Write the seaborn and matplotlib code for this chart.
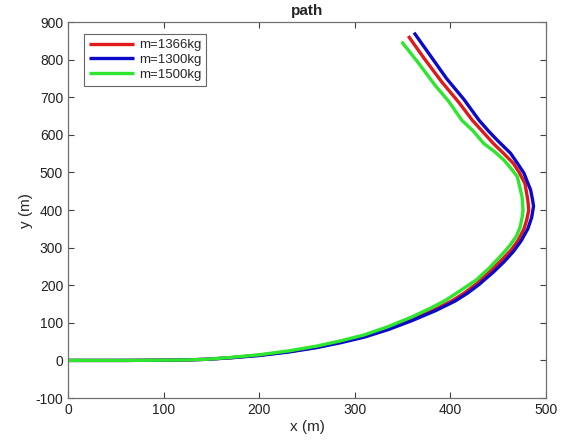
import pandas as pd
import matplotlib
matplotlib.use("Agg")
import matplotlib.pyplot as plt
import seaborn as sns

# Path points (x in m, y in m)
labels = ["m=1366kg", "m=1300kg", "m=1500kg"]
colors = ["#e01a1a", "#0a0ac8", "#2ee62e"]

x_1366 = [0, 60, 120, 145, 170, 200, 230, 260, 285, 310, 335, 360, 385, 402, 415,
          428, 442, 454, 464, 471, 477, 480, 482, 481, 478, 472, 466, 456, 445, 434,
          423, 409, 391, 373, 356]
y_1366 = [0, 0, 1, 3, 7, 14, 23, 35, 49, 64, 85, 110, 137, 159, 180,
          205, 238, 268, 295, 320, 350, 375, 400, 427, 471, 500, 524, 550, 577, 608,
          639, 686, 741, 802, 863]

x_1300 = [0, 60, 120, 145, 170, 200, 230, 260, 285, 310, 335, 360, 385, 405, 418,
          430, 445, 456, 466, 474, 481, 485, 487, 486, 484, 477, 470, 463, 449, 440,
          430, 414, 396, 379, 362]
y_1300 = [0, 0, 1, 3, 7, 13, 22, 34, 47, 62, 82, 106, 133, 158, 179,
          202, 235, 262, 290, 318, 350, 380, 410, 427, 453, 498, 525, 551, 586, 610,
          639, 695, 750, 811, 872]

x_1500 = [0, 60, 120, 145, 170, 200, 230, 260, 285, 310, 335, 360, 380, 395, 410,
          427, 440, 452, 462, 469, 473, 475, 476, 475, 470, 463, 456, 446, 435, 424,
          412, 398, 384, 367, 349]
y_1500 = [0, 0, 1, 3, 8, 15, 25, 38, 52, 68, 90, 116, 140, 160, 185,
          214, 244, 276, 305, 330, 355, 380, 400, 435, 489, 512, 533, 556, 577, 610,
          639, 690, 732, 790, 848]

df = pd.concat([
    pd.DataFrame({"x": x_1366, "y": y_1366, "mass": labels[0]}),
    pd.DataFrame({"x": x_1300, "y": y_1300, "mass": labels[1]}),
    pd.DataFrame({"x": x_1500, "y": y_1500, "mass": labels[2]}),
], ignore_index=True)

sns.set_style("white")
plt.rcParams["font.family"] = ["Liberation Sans", "DejaVu Sans"]
plt.rcParams["axes.unicode_minus"] = False

fig = plt.figure(figsize=(5.61, 4.48), dpi=100)
ax = fig.add_axes([0.1212, 0.1116, 0.852, 0.839])

sns.lineplot(data=df, x="x", y="y", hue="mass", hue_order=labels,
             palette=colors, sort=False, estimator=None, units="mass",
             linewidth=2.4, ax=ax)
for line in ax.get_lines():
    line.set_solid_joinstyle("round")
    line.set_solid_capstyle("butt")

ax.set_xlim(0, 500)
ax.set_ylim(-100, 900)
ax.set_xticks(range(0, 501, 100))
ax.set_yticks(range(-100, 901, 100))
ax.tick_params(direction="in", length=4, width=0.8, colors="#404040",
               labelcolor="#222222", labelsize=10, top=True, right=True,
               bottom=True, left=True)
for s in ax.spines.values():
    s.set_color("#707070")
    s.set_linewidth(0.9)

ax.set_title("path", fontsize=11, fontweight="bold", pad=5)
ax.set_xlabel("x (m)", fontsize=11, labelpad=2)
ax.set_ylabel("y (m)", fontsize=11, labelpad=2)

leg = ax.legend(loc="upper left", fontsize=9.5, handlelength=3.4,
                frameon=True, fancybox=False, borderpad=0.35,
                labelspacing=0.2, handletextpad=0.4,
                bbox_to_anchor=(0.02, 0.985))
leg.get_frame().set_edgecolor("#404040")
leg.get_frame().set_linewidth(0.8)
for line in leg.get_lines():
    line.set_linewidth(2.4)

fig.savefig("out.png", dpi=100)
